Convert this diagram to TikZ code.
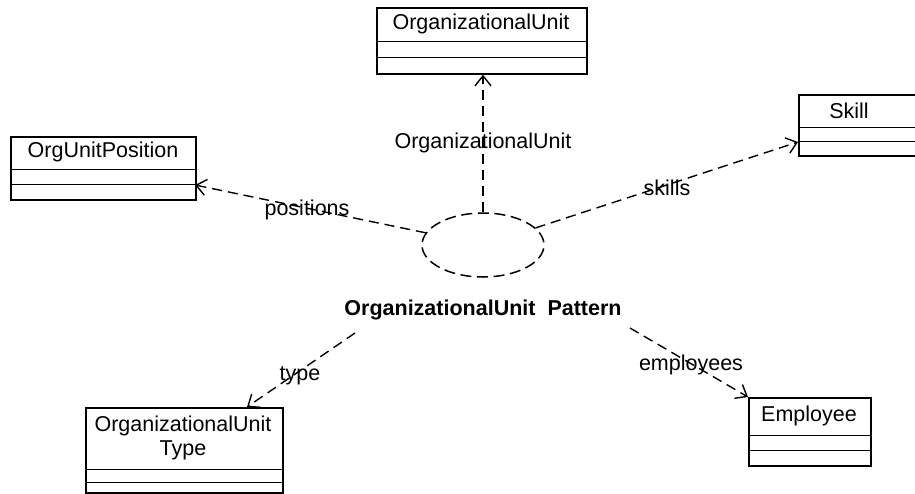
\documentclass[tikz,border=0pt]{standalone}
\usepackage{fontspec}
\setmainfont{Liberation Sans}
\usetikzlibrary{arrows.meta,shapes.geometric}
\begin{document}
\begin{tikzpicture}[x=1pt,y=-1pt,
  cls/.style={draw,line width=1.7pt,inner sep=0pt,anchor=north west},
  comp/.style={line width=1pt},
  txt/.style={font=\fontsize{21.5}{24}\selectfont,inner sep=0pt,align=center},
  btxt/.style={font=\bfseries\fontsize{21.5}{24}\selectfont,inner sep=0pt},
  dep/.style={dash pattern=on 10pt off 6pt,line width=1.4pt,
    -{Straight Barb[length=10pt,width=16pt,line width=1.4pt]}},
]
\useasboundingbox (0,0) rectangle (915,493);
\begin{scope}
\clip (0,0) rectangle (915,493);
% OrganizationalUnit
\node[cls,minimum width=210pt,minimum height=66pt] (ou) at (376,7) {};
\draw[comp] (376,41) -- (586,41);
\draw[comp] (376,57) -- (586,57);
\node[txt] (out) at (481,24) {OrganizationalUnit};
% OrgUnitPosition
\node[cls,minimum width=185pt,minimum height=63pt] (oup) at (10,136) {};
\draw[comp] (10,169) -- (195,169);
\draw[comp] (10,184) -- (195,184);
\node[txt] (oupt) at (103,152) {OrgUnitPosition};
% Skill
\node[cls,minimum width=140pt,minimum height=61pt] (sk) at (798,94) {};
\draw[comp] (798,127) -- (938,127);
\draw[comp] (798,141) -- (938,141);
\node[txt] (skt) at (849,111) {Skill};
% Employee
\node[cls,minimum width=122pt,minimum height=68pt] (emp) at (748,397) {};
\draw[comp] (748,435) -- (870,435);
\draw[comp] (748,450) -- (870,450);
\node[txt] (empt) at (809,416) {Employee};
% OrganizationalUnit Type
\node[cls,minimum width=197pt,minimum height=85pt] (ot) at (85,407) {};
\draw[comp] (85,469) -- (282,469);
\draw[comp] (85,482) -- (282,482);
\node[txt] (ott) at (183,438) {OrganizationalUnit\\Type};
\end{scope}
% pattern ellipse
\node[ellipse,draw,dash pattern=on 11pt off 5.6pt,dash phase=14pt,line width=1.5pt,minimum width=122pt,minimum height=64pt,inner sep=0pt] (pat) at (483,245) {};
\node[btxt] (patl) at (483,310) {OrganizationalUnit\ \ Pattern};
% end points
\coordinate (oupTip) at (195,185);
\coordinate (skTip) at (798,142);
\coordinate (typeStart) at (355,333);
\coordinate (typeTip) at (247,407);
\coordinate (empStart) at (630,328);
% connectors
\draw[dep] (pat.north) -- (pat.north |- ou.south);
\node[txt] (l1) at (483,143) {OrganizationalUnit};
\draw[dep] (pat.168) -- (oupTip);
\node[txt] (l2) at (307,210) {positions};
\draw[dep] (pat.18) -- (skTip);
\node[txt] (l3) at (667,188) {skills};
\draw[dep] (typeStart) -- (typeTip);
\node[txt] (l4) at (300,376) {type};
\draw[dep] (empStart) -- (emp.north west);
\node[txt] (l5) at (691,365) {employees};
\end{tikzpicture}
\end{document}
